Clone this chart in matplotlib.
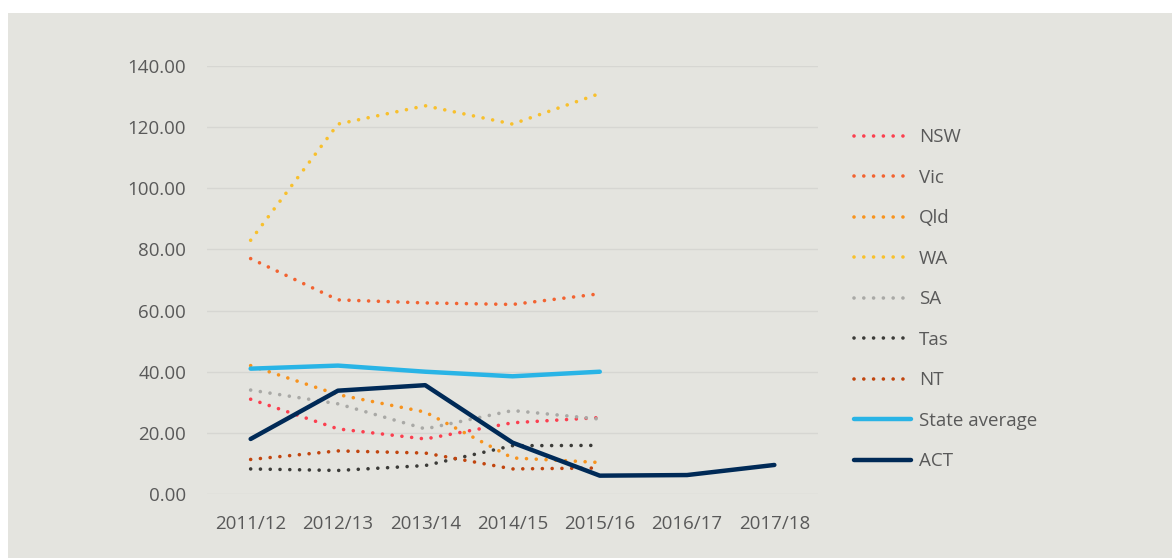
import matplotlib.pyplot as plt
from matplotlib.patches import Rectangle

plt.rcParams['font.family'] = ['Open Sans', 'DejaVu Sans']

years = ["2011/12", "2012/13", "2013/14", "2014/15", "2015/16", "2016/17", "2017/18"]

nsw = [31.0, 21.3, 18.0, 23.3, 25.0]
vic = [77.0, 63.5, 62.5, 62.0, 65.5]
qld = [42.0, 32.5, 26.8, 11.8, 10.3]
wa = [83.0, 121.0, 127.0, 121.0, 131.0]
sa = [34.0, 29.5, 21.3, 27.3, 24.5]
tas = [8.2, 7.7, 9.3, 15.8, 15.9]
nt = [11.3, 14.1, 13.4, 8.2, 8.5]
state_avg = [41.0, 42.0, 40.0, 38.5, 40.0]
act = [18.0, 33.8, 35.6, 16.8, 6.0, 6.2, 9.5]

dotted = [
    ("NSW", nsw, "#fb3f4f"),
    ("Vic", vic, "#f26331"),
    ("Qld", qld, "#f7931e"),
    ("WA", wa, "#f8c02d"),
    ("SA", sa, "#a9a9a6"),
    ("Tas", tas, "#3b3b38"),
    ("NT", nt, "#c1450e"),
]

fig = plt.figure(figsize=(11.72, 5.58), dpi=100)
fig.patch.set_facecolor("white")

# grey panel behind everything
bg = fig.add_axes([0, 0, 1, 1], zorder=-1)
bg.axis("off")
bg.add_patch(Rectangle((8 / 1172, 0), 1, 1 - 13 / 558, transform=bg.transAxes,
                       facecolor="#e4e4df", edgecolor="none"))

ax = fig.add_axes([207 / 1172, 1 - 494 / 558, (818 - 207) / 1172, (494 - 66) / 558])
ax.set_facecolor("none")

x = list(range(len(years)))
for name, vals, color in dotted:
    ax.plot(x[:len(vals)], vals, color=color, lw=2.6, linestyle=(0, (0.01, 2.7)),
            dash_capstyle="round", solid_capstyle="round", label=name)
ax.plot(x[:len(state_avg)], state_avg, color="#29b4e6", lw=3.2, label="State average",
        solid_capstyle="round")
ax.plot(x, act, color="#002a57", lw=3.2, label="ACT", solid_capstyle="round")

ax.set_xlim(-0.5, 6.5)
ax.set_ylim(0, 140)
ax.set_yticks(range(0, 141, 20))
ax.set_yticklabels([f"{v:.2f}" for v in range(0, 141, 20)])
ax.set_xticks(x)
ax.set_xticklabels(years)
ax.grid(axis="y", color="#d6d6d2", lw=1)
ax.set_axisbelow(True)
for s in ax.spines.values():
    s.set_visible(False)
ax.tick_params(length=0, labelsize=13.5, colors="#595959")
ax.tick_params(axis="y", pad=15)
ax.tick_params(axis="x", pad=15)

leg = ax.legend(loc="upper left", bbox_to_anchor=(845 / 1172, 1 - 119 / 558),
                bbox_transform=fig.transFigure, frameon=False, fontsize=13.5,
                handlelength=3.0, handletextpad=0.45, labelspacing=1.2, borderpad=0)
for t in leg.get_texts():
    t.set_color("#595959")

fig.savefig("out.png", dpi=100)
